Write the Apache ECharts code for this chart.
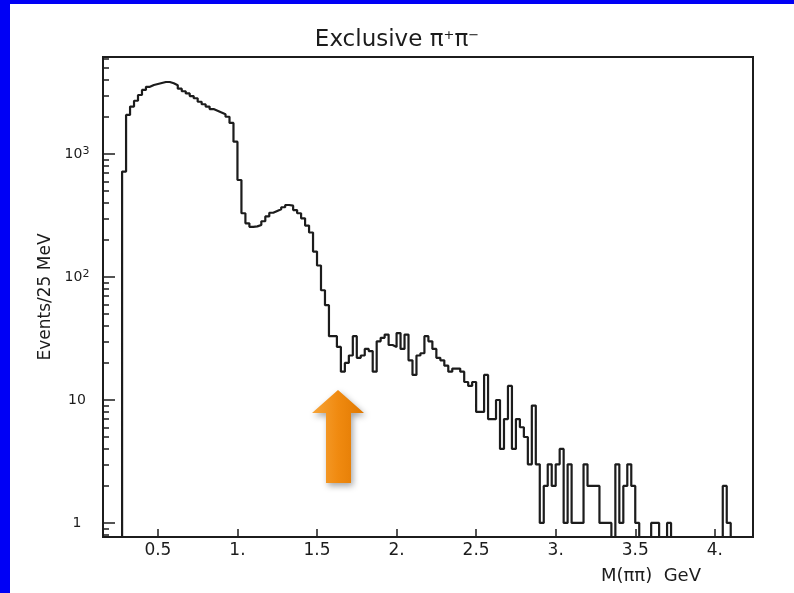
<!DOCTYPE html>
<html><head><meta charset="utf-8">
<script src="https://cdn.jsdelivr.net/npm/echarts@6/dist/echarts.min.js"></script>
<style>html,body{margin:0;padding:0;background:#fff}#c{width:794px;height:593px}</style>
</head><body><div id="c"></div>
<script>
const titleMain = 'Exclusive π';
const xAxisTitle = 'M(ππ)  GeV';
const yAxisTitle = 'Events/25 MeV';
const binStart = 0.275;   // GeV, left edge of first bin
const binWidth = 0.025;   // GeV (25 MeV)
const counts = [
  720, 2080, 2430, 2710, 3020, 3320, 3520, 3640, 3710, 3780,
  3850, 3850, 3760, 3630, 3400, 3240, 3110, 2960, 2840, 2660,
  2540, 2430, 2320, 2250, 2180, 2110, 2010, 1790, 1260, 615,
  330, 273, 256, 258, 265, 284, 311, 333, 344, 355,
  369, 385, 380, 350, 330, 300, 262, 230, 161, 124,
  78, 59, 33, 33, 27, 17, 20, 23, 33, 22,
  23, 26, 25, 17, 30, 32, 34, 28, 27, 35,
  26, 34, 21, 16, 23, 24, 33, 30, 26, 22,
  21, 19, 17, 18, 18, 17, 14, 13, 14, 8,
  8, 16, 7, 7, 10, 4, 7, 13, 4, 7,
  6, 5, 3, 9, 3, 1, 2, 3, 2, 3,
  4, 1, 3, 1, 1, 1, 3, 2, 2, 2,
  1, 1, 1, 0, 3, 1, 2, 3, 2, 1,
  0, 0, 0, 1, 1, 0, 0, 1, 0, 0,
  0, 0, 0, 0, 0, 0, 0, 0, 0, 0,
  0, 2, 1, 0
];
const xTickValues = [0.5, 1.0, 1.5, 2.0, 2.5, 3.0, 3.5, 4.0];
const xTickLabels = ['0.5', '1.', '1.5', '2.', '2.5', '3.', '3.5', '4.'];
const yMajorValues = [1, 10, 100, 1000];
const yMajorLabels = ['{b|1}', '{b|10}', '{b|10}{s|2}', '{b|10}{s|3}'];
const yMinorValues = [0.8, 0.9, 2, 3, 4, 5, 6, 7, 8, 9, 20, 30, 40, 50, 60, 70, 80, 90,
  200, 300, 400, 500, 600, 700, 800, 900, 2000, 3000, 4000, 5000, 6000];

const xMin = 0.155, xMax = 4.24;
const yMin = 0.769, yMax = 6150;

const pts = [];
counts.forEach((c, i) => {
  const v = c > 0 ? c : yMin;
  pts.push([binStart + i * binWidth, v]);
});
pts.unshift([binStart, yMin]);
pts.push([binStart + counts.length * binWidth, counts[counts.length - 1] > 0 ? counts[counts.length - 1] : yMin]);

const FONT = 'DejaVu Sans';
const INK = '#1c1c1c';
const chart = echarts.init(document.getElementById('c'), null, {renderer: 'canvas'});
const yAxisBase = {
  type: 'log', min: yMin, max: yMax, logBase: 10,
  splitLine: {show: false}, minorTick: {show: false}, minorSplitLine: {show: false}
};
chart.setOption({
  animation: false,
  backgroundColor: '#fff',
  title: {
    text: '{a|' + titleMain + '}{s|+}{a|π}{s|−}',
    left: 'center', top: 24,
    textStyle: {fontWeight: 'normal', rich: {
      a: {fontFamily: FONT, fontSize: 23, fontWeight: 'normal', color: INK},
      s: {fontFamily: FONT, fontSize: 13, fontWeight: 'normal', color: INK, verticalAlign: 'top', padding: [0, 0, 9, 0]}
    }}
  },
  grid: {left: 103, right: 41, top: 57, bottom: 56, show: true, borderColor: INK, borderWidth: 2, containLabel: false},
  xAxis: {
    type: 'value', min: xMin, max: xMax,
    name: xAxisTitle, nameLocation: 'end', nameGap: 0,
    nameTextStyle: {fontFamily: FONT, fontSize: 18, color: INK, align: 'right', verticalAlign: 'top', padding: [30, 52, 0, 0]},
    axisLine: {show: true, lineStyle: {color: INK, width: 2}},
    axisTick: {show: true, inside: true, length: 8, lineStyle: {color: INK, width: 1.5}, customValues: xTickValues},
    axisLabel: {show: true, customValues: xTickValues, margin: 5,
      fontFamily: FONT, fontSize: 17, color: INK,
      formatter: v => { const i = xTickValues.findIndex(t => Math.abs(t - v) < 1e-6); return i >= 0 ? xTickLabels[i] : ''; }},
    splitLine: {show: false}
  },
  yAxis: [
    Object.assign({}, yAxisBase, {
      name: yAxisTitle, nameLocation: 'middle', nameGap: 49, nameRotate: 90,
      nameTextStyle: {fontFamily: FONT, fontSize: 17, color: INK},
      axisLine: {show: true, lineStyle: {color: INK, width: 2}},
      axisTick: {show: true, inside: true, length: 12, lineStyle: {color: INK, width: 1.5}, customValues: yMajorValues},
      axisLabel: {show: true, customValues: yMajorValues, margin: 26, align: 'center',
        formatter: v => { const i = yMajorValues.findIndex(t => Math.abs(t - v) / t < 1e-6); return i >= 0 ? yMajorLabels[i] : ''; },
        rich: {
          b: {fontFamily: FONT, fontSize: 14, color: INK},
          s: {fontFamily: FONT, fontSize: 11, color: INK, verticalAlign: 'top', padding: [0, 0, 6, 0]}
        }}
    }),
    Object.assign({}, yAxisBase, {
      position: 'left',
      axisLine: {show: false},
      axisTick: {show: true, inside: true, length: 6, lineStyle: {color: INK, width: 1.5}, customValues: yMinorValues},
      axisLabel: {show: false}
    })
  ],
  series: [{
    type: 'line', step: 'end', data: pts, yAxisIndex: 0,
    symbol: 'none', clip: true,
    lineStyle: {color: INK, width: 2.2}
  }],
  graphic: [
    {type: 'rect', shape: {x: 0, y: 0, width: 10, height: 593}, style: {fill: '#0000f5'}, z: 100},
    {type: 'rect', shape: {x: 0, y: 0, width: 794, height: 4}, style: {fill: '#0000f5'}, z: 100},
    {type: 'polygon', z: 100,
      shape: {points: [[338, 390], [364, 413], [351, 413], [351, 483], [326, 483], [326, 413], [312, 413]]},
      style: {
        fill: new echarts.graphic.LinearGradient(0, 0, 1, 0, [
          {offset: 0, color: '#f7a53a'}, {offset: 0.5, color: '#f08a10'}, {offset: 1, color: '#e07800'}
        ]),
        shadowBlur: 6, shadowColor: 'rgba(0,0,0,0.35)', shadowOffsetX: 2, shadowOffsetY: 3
      }}
  ]
});
</script></body></html>
